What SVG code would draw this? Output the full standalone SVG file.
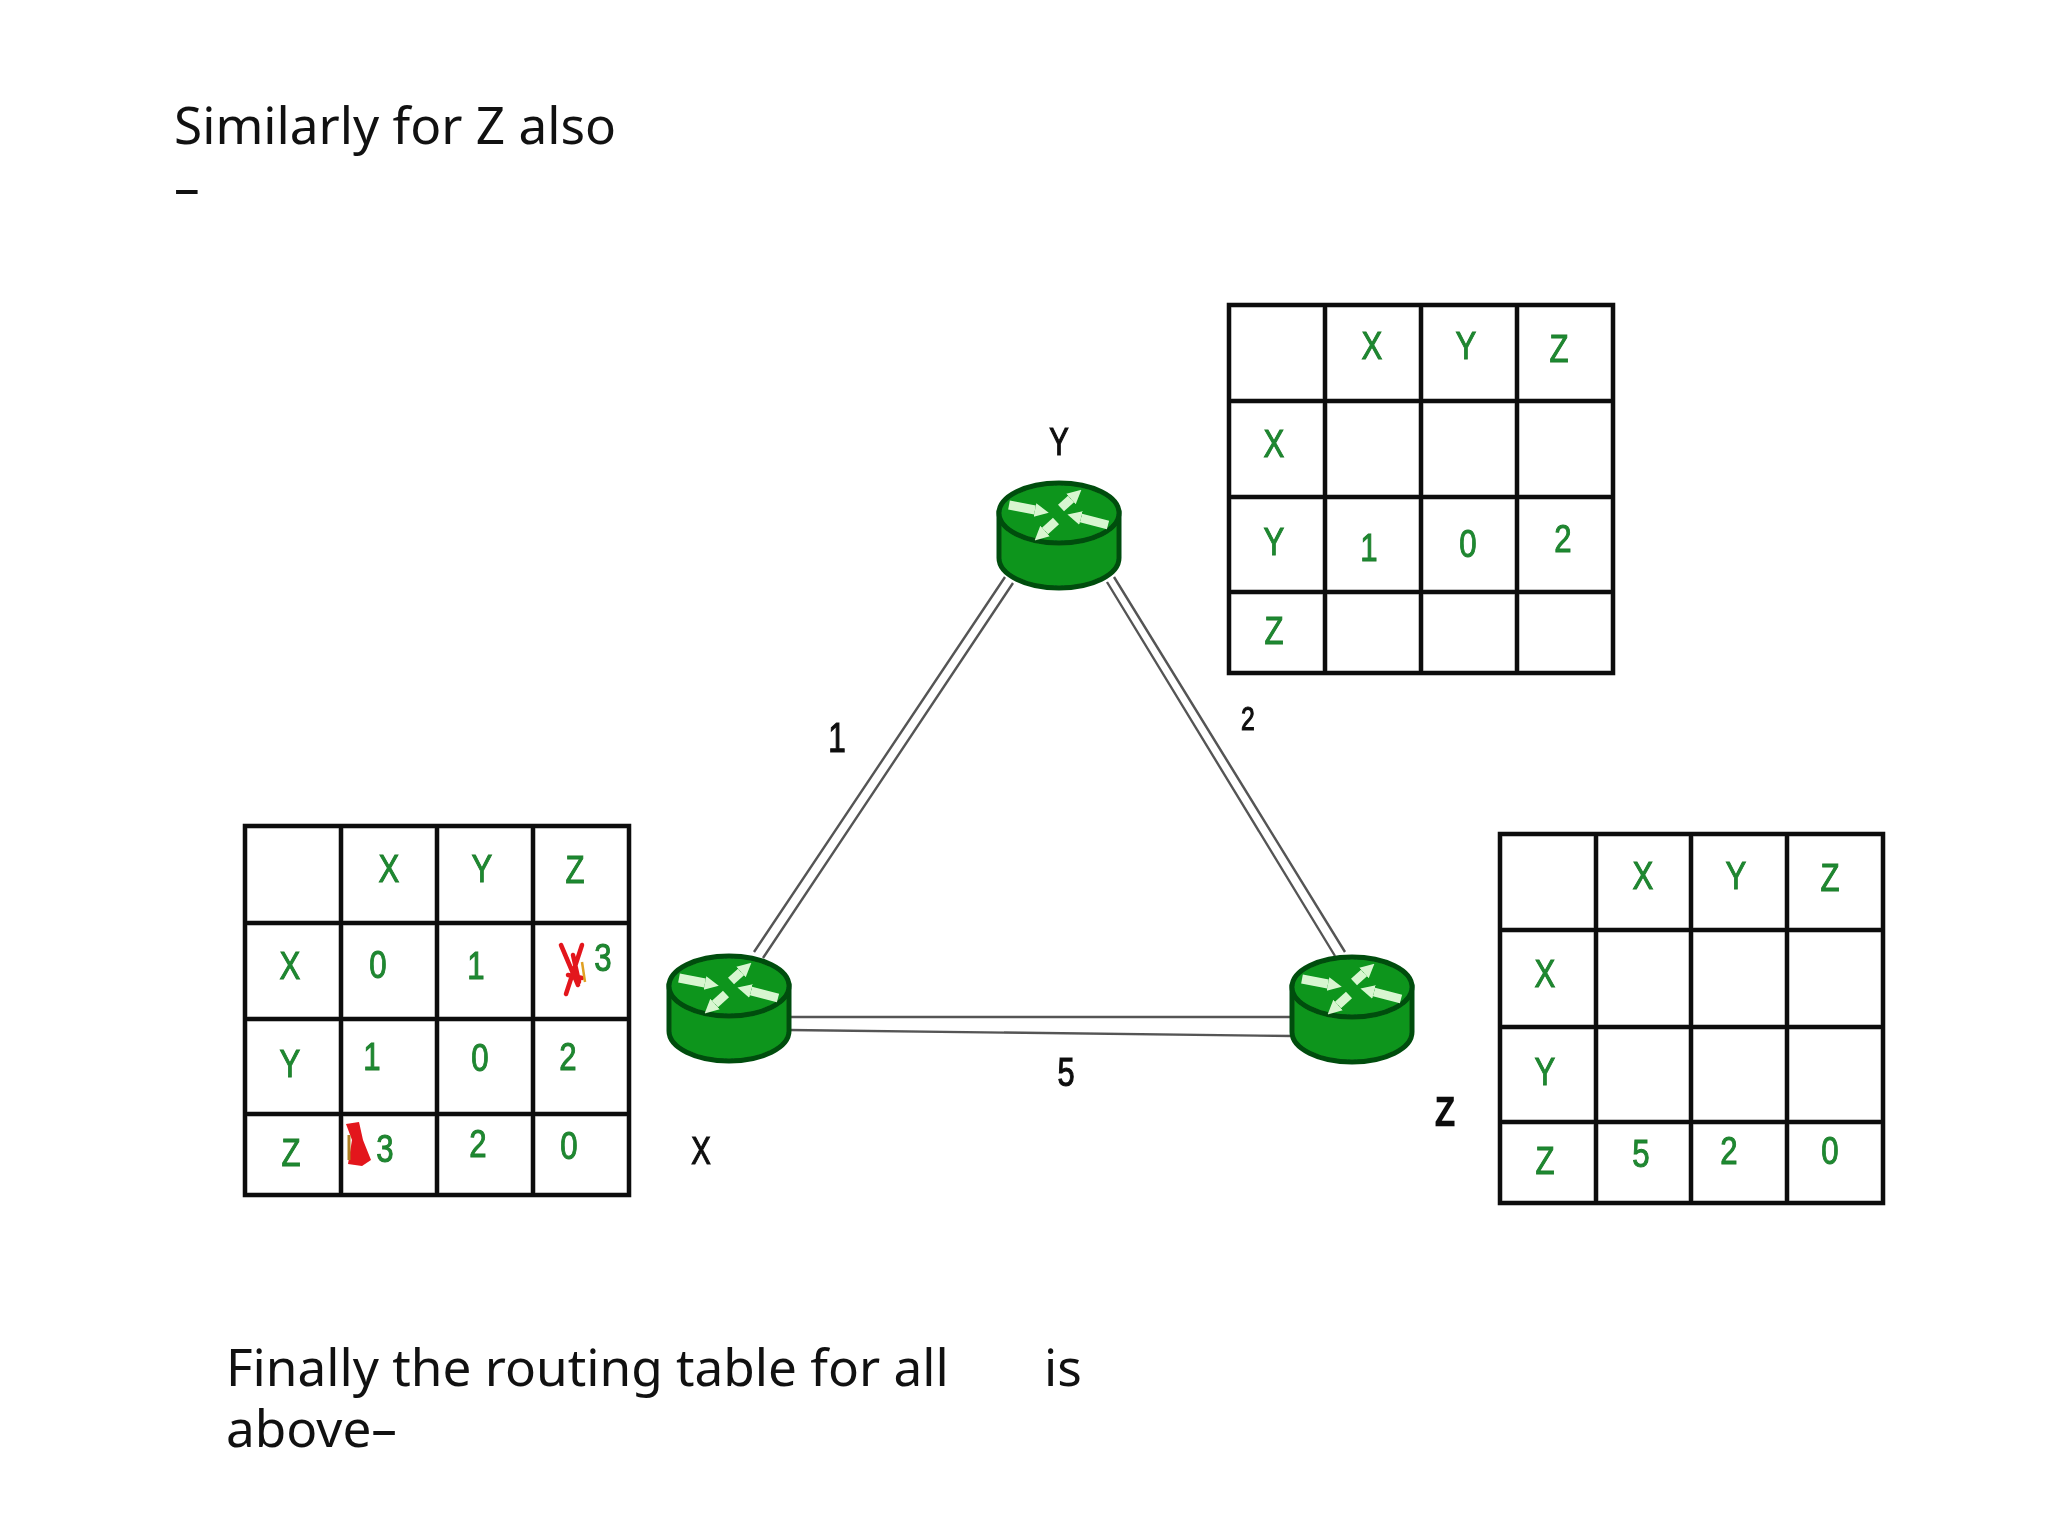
<svg xmlns="http://www.w3.org/2000/svg" xmlns:xlink="http://www.w3.org/1999/xlink" width="2048" height="1536" viewBox="0 0 2048 1536">
<style>
.cap{font-family:"Noto Sans","Open Sans",sans-serif;font-size:51.3px;fill:#111}
.g{font-family:"Liberation Sans",Arial,sans-serif;font-size:39px;fill:#1f8a30;stroke:#1f7d2d;stroke-width:1;text-anchor:middle}
.k{font-family:"Liberation Sans",Arial,sans-serif;font-size:39px;fill:#111;stroke:#111;stroke-width:1.2;text-anchor:middle}
.grid{fill:none;stroke:#111;stroke-width:4.5}
.link{fill:none;stroke:#555;stroke-width:2.4}
.body{fill:#0a951b;stroke:#064d10;stroke-width:5}
.arr{fill:none;stroke:#d8f6d0;stroke-width:9;marker-end:url(#ah)}
.red{fill:none;stroke:#e3141c;stroke-linecap:round}
</style>
<defs>
<filter id="soft" filterUnits="userSpaceOnUse" x="0" y="0" width="2048" height="1536"><feGaussianBlur stdDeviation="0.6"/></filter>
<marker id="ah" viewBox="0 0 6 6" refX="0" refY="3" markerUnits="userSpaceOnUse" markerWidth="14" markerHeight="18" orient="auto"><path d="M0 0L6 3L0 6z" fill="#d8f6d0"/></marker>
<g id="router">
<path class="body" d="M-60 0V45A60 30 0 0 0 60 45V0z"/>
<ellipse class="body" cx="0" cy="0" rx="60" ry="30"/>
<path class="arr" d="M-50 -8L-24 -3"/>
<path class="arr" d="M49 12L22 5"/>
<path class="arr" d="M2 -5L12 -14"/>
<path class="arr" d="M-3 8L-14 18"/>
</g>
</defs>
<rect width="2048" height="1536" fill="#fff"/>
<text class="cap" x="174" y="144">Similarly for Z also</text>
<text class="cap" x="174" y="206">–</text>
<text class="cap" x="226" y="1386">Finally the routing table for all</text>
<text class="cap" x="1044" y="1386">is</text>
<text class="cap" x="226" y="1447">above–</text>

<g filter="url(#soft)">
<g id="connectors">
<path class="link" d="M1005 577L754 952M1013 583L763 958"/>
<path class="link" d="M1107 582L1335 956M1114 577L1345 952"/>
<path class="link" d="M789 1017H1292M789 1030L1292 1036"/>
</g>

<g id="node-y"><use xlink:href="#router" href="#router" x="1059" y="513"/><text class="k" transform="translate(1059 455) scale(.75 1)">Y</text></g>
<g id="node-x"><use xlink:href="#router" href="#router" x="729" y="986"/><text class="k" transform="translate(701 1164) scale(.75 1)">X</text></g>
<g id="node-z"><use xlink:href="#router" href="#router" x="1352" y="987"/><text class="k" style="stroke-width:2.4" transform="translate(1445 1125) scale(.8 1)">Z</text></g>

<g id="labels">
<text class="k" style="font-size:42px" transform="translate(837 752) scale(.75 1)">1</text>
<text class="k" style="font-size:33px" transform="translate(1248 730) scale(.75 1)">2</text>
<text class="k" style="font-size:41px" transform="translate(1066 1086) scale(.75 1)">5</text>
</g>

<g id="table-x">
<path class="grid" d="M245 826H629V1195H245zM341 826V1195M437 826V1195M533 826V1195M245 923H629M245 1019H629M245 1114H629"/>
<text class="g" transform="translate(389 882) scale(.8 1)">X</text>
<text class="g" transform="translate(482 882) scale(.8 1)">Y</text>
<text class="g" transform="translate(575 883) scale(.8 1)">Z</text>
<text class="g" transform="translate(290 979) scale(.8 1)">X</text>
<text class="g" transform="translate(378 978) scale(.8 1)">0</text>
<text class="g" transform="translate(476 979) scale(.8 1)">1</text>
<path class="red" stroke-width="4.5" d="M561 945L578 985M582 945L566 994M573 955L579 982M568 975L582 978"/>
<path fill="none" stroke="#e0a020" stroke-width="2.5" d="M582 962L585 982"/>
<text class="g" transform="translate(603 971) scale(.8 1)">3</text>
<text class="g" transform="translate(290 1077) scale(.8 1)">Y</text>
<text class="g" transform="translate(372 1070) scale(.8 1)">1</text>
<text class="g" transform="translate(480 1071) scale(.8 1)">0</text>
<text class="g" transform="translate(568 1070) scale(.8 1)">2</text>
<text class="g" transform="translate(291 1166) scale(.8 1)">Z</text>
<path fill="#e3141c" d="M346 1124L359 1122L363 1140L371 1160L362 1166L348 1164L352 1140L349 1132z"/>
<path fill="none" stroke="#b08020" stroke-width="3" d="M349 1135V1160"/>
<text class="g" transform="translate(385 1162) scale(.8 1)">3</text>
<text class="g" transform="translate(478 1157) scale(.8 1)">2</text>
<text class="g" transform="translate(569 1159) scale(.8 1)">0</text>
</g>

<g id="table-y">
<path class="grid" d="M1229 305H1613V673H1229zM1325 305V673M1421 305V673M1517 305V673M1229 401H1613M1229 497H1613M1229 592H1613"/>
<text class="g" transform="translate(1372 359) scale(.8 1)">X</text>
<text class="g" transform="translate(1466 359) scale(.8 1)">Y</text>
<text class="g" transform="translate(1559 362) scale(.8 1)">Z</text>
<text class="g" transform="translate(1274 457) scale(.8 1)">X</text>
<text class="g" transform="translate(1274 555) scale(.8 1)">Y</text>
<text class="g" transform="translate(1369 561) scale(.8 1)">1</text>
<text class="g" transform="translate(1468 557) scale(.8 1)">0</text>
<text class="g" transform="translate(1563 552) scale(.8 1)">2</text>
<text class="g" transform="translate(1274 644) scale(.8 1)">Z</text>
</g>

<g id="table-z">
<path class="grid" d="M1500 834H1883V1203H1500zM1596 834V1203M1691 834V1203M1787 834V1203M1500 930H1883M1500 1027H1883M1500 1122H1883"/>
<text class="g" transform="translate(1643 889) scale(.8 1)">X</text>
<text class="g" transform="translate(1736 889) scale(.8 1)">Y</text>
<text class="g" transform="translate(1830 891) scale(.8 1)">Z</text>
<text class="g" transform="translate(1545 987) scale(.8 1)">X</text>
<text class="g" transform="translate(1545 1085) scale(.8 1)">Y</text>
<text class="g" transform="translate(1545 1174) scale(.8 1)">Z</text>
<text class="g" transform="translate(1641 1167) scale(.8 1)">5</text>
<text class="g" transform="translate(1729 1164) scale(.8 1)">2</text>
<text class="g" transform="translate(1830 1164) scale(.8 1)">0</text>
</g>
</g>
</svg>
